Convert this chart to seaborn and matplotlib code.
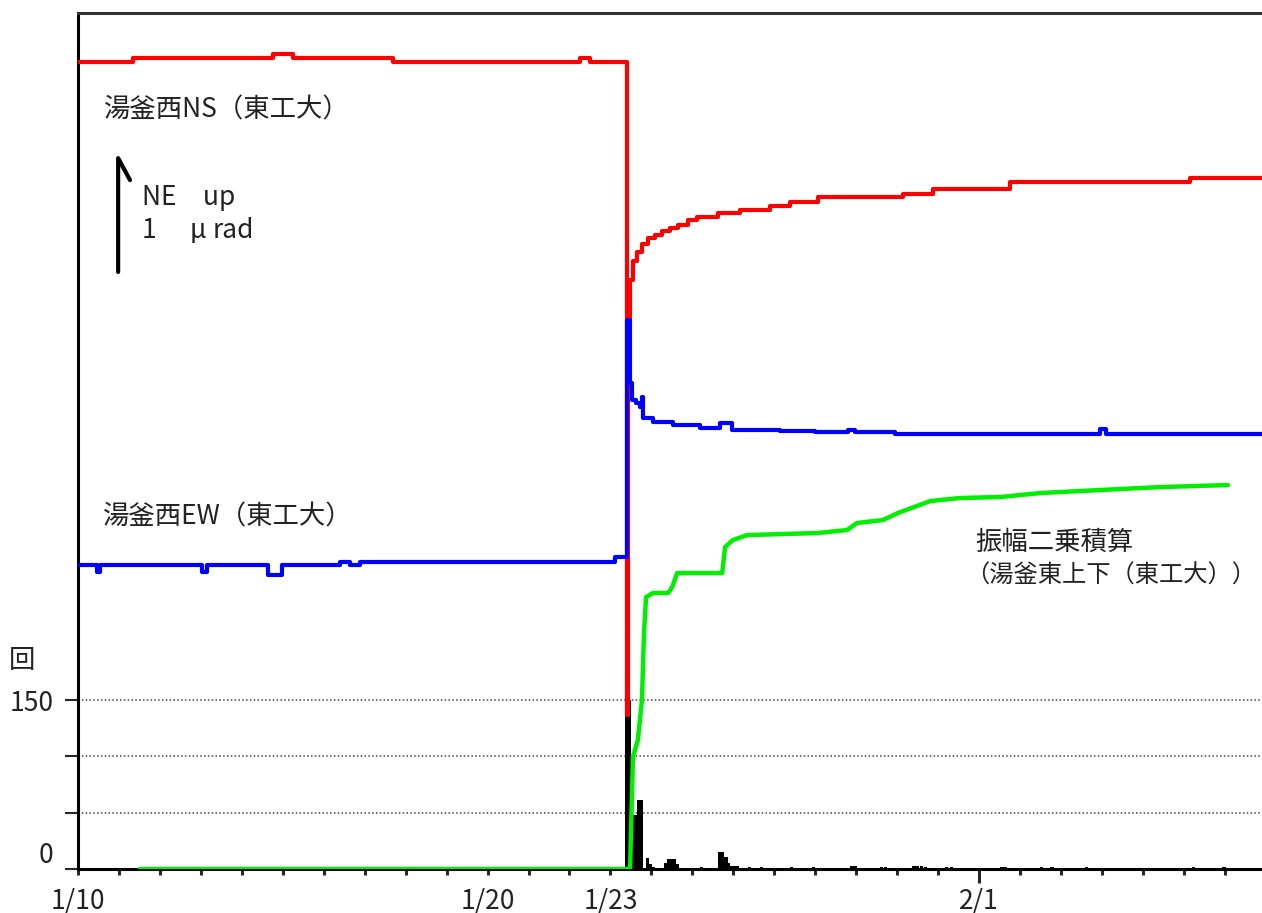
import numpy as np
import pandas as pd
import seaborn as sns
import matplotlib.pyplot as plt

# x = days since 1/10, y = count scale (回); tilt traces drawn on the same scale as offsets
ns_days = [0, 1.34, 4.76, 5.25, 7.69, 12.26, 12.50, 13.41, 13.43, 13.48, 13.55, 13.65, 13.77,
           13.92, 14.09, 14.26, 14.46, 14.65, 14.90, 15.12, 15.63, 16.17, 16.90, 17.39, 18.07,
           20.15, 20.88, 22.76, 27.15, 28.91]
ns_vals = [716.3, 719.8, 723.4, 719.8, 716.3, 719.8, 716.3, 137.0, 487.3, 523.0, 540.0, 548.0, 555.0,
           560.0, 563.0, 566.0, 569.0, 572.0, 576.0, 579.0, 582.5, 585.2, 588.7, 592.3, 596.7,
           599.4, 604.0, 609.8, 613.3, 613.3]

ew_days = [0, 0.46, 0.54, 3.03, 3.15, 4.64, 4.98, 6.40, 6.64, 6.89, 13.11, 13.41, 13.48, 13.53,
           13.63, 13.72, 13.77, 13.80, 14.04, 14.53, 15.19, 15.68, 15.97, 17.14, 18.00, 18.80,
           18.97, 19.95, 24.96, 25.10, 28.91]
ew_vals = [269.8, 263.6, 269.8, 263.6, 269.8, 261.0, 269.8, 272.5, 269.8, 272.5, 276.9, 487.3, 431.3, 416.3,
           413.6, 410.0, 419.0, 400.3, 396.7, 394.1, 391.4, 395.8, 389.6, 388.7, 387.9, 389.6,
           387.9, 386.1, 390.5, 386.1, 386.1]

amp_days = [1.51, 13.48, 13.55, 13.67, 13.77, 13.82, 13.87, 14.04, 14.41, 14.51, 14.63, 15.73,
            15.80, 15.99, 16.34, 18.05, 18.78, 19.02, 19.66, 20.02, 20.81, 21.54, 22.52, 23.49,
            24.96, 26.42, 28.08]
amp_vals = [0, 0, 99.4, 114.5, 150.0, 209.5, 241.4, 245.0, 245.0, 250.3, 262.7, 262.7,
            285.8, 292.0, 296.4, 298.2, 300.9, 307.1, 309.8, 316.0, 326.6, 329.3, 330.2, 333.7,
            336.4, 339.0, 340.8]

quake_days = [1.51, 5.01, 13.36, 13.43, 13.50, 13.58, 13.65, 13.72, 13.87, 13.94, 14.02, 14.31,
              14.38, 14.46, 14.53, 14.60, 15.19, 15.63, 15.70, 15.78, 15.85, 15.92, 15.99, 16.07,
              16.36, 16.65, 17.39, 17.92, 18.85, 18.93, 19.58, 19.68, 20.37, 20.46, 20.56, 20.66,
              21.17, 21.29, 22.52, 22.61, 23.49, 23.74, 24.59, 25.69, 27.20, 27.94]
quake_counts = [1, 2, 150, 150, 48, 48, 61, 61, 10, 4, 2, 5,
                9, 9, 9, 4, 2, 15, 15, 11, 5, 3, 3, 3,
                2, 2, 2, 2, 3, 3, 2, 2, 3, 3, 3, 2,
                2, 2, 2, 2, 2, 2, 2, 1, 2, 2]

tick_days = [0, 10, 13, 22]
tick_labels = ['1/10', '1/20', '1/23', '2/1']

sns.set_style('ticks')
plt.rcParams['font.family'] = ['Noto Sans CJK JP', 'DejaVu Sans']

fig = plt.figure(figsize=(12.62, 9.13), dpi=100)
ax = fig.add_axes([78 / 1262, 44 / 913, 1184 / 1262, 856 / 913])

# dotted count grid
for v in [50, 100, 150]:
    ax.axhline(v, color='#444444', lw=1.1, ls=(0, (1, 1.5)), zorder=1)

ax.bar(quake_days, quake_counts, width=0.08, align='edge', color='black', linewidth=0, zorder=2)

sns.lineplot(x=amp_days, y=amp_vals, color='#00ee00', lw=3.2, estimator=None, sort=False,
             ax=ax, zorder=3)
sns.lineplot(x=ns_days, y=ns_vals, color='#ff0000', lw=3, estimator=None, sort=False,
             drawstyle='steps-post', ax=ax, zorder=4)
sns.lineplot(x=ew_days, y=ew_vals, color='#0000ff', lw=3, estimator=None, sort=False,
             drawstyle='steps-post', ax=ax, zorder=5)

ax.set_xlim(0, 28.91)
ax.set_ylim(0, 759.8)

# scale arrow
ax.plot([0.98, 0.98, 1.27], [529.9, 631.0, 611.5], color='black', lw=3, zorder=6)

txt = dict(fontsize=19, color='#222222', va='center', ha='left')
ax.text(0.63, 673.6, '湯釜西NS（東工大）', **txt)
ax.text(1.56, 596.4, 'NE　up', **txt)
ax.text(1.56, 567.1, '1　', **txt)
ax.text(2.72, 567.1, 'μ', fontsize=19, color='#222222', va='center', ha='left', style='italic')
ax.text(3.29, 567.1, 'rad', **txt)
ax.text(0.61, 312.4, '湯釜西EW（東工大）', **txt)
ax.text(21.90, 290.2, '振幅二乗積算', **txt)
ax.text(21.66, 260.1, '（湯釜東上下（東工大））', fontsize=17.5, color='#222222',
        va='center', ha='left')
ax.text(-1.37, 185, '回', fontsize=19, color='#222222', va='center', ha='center', clip_on=False)

ax.set_yticks([0, 50, 100, 150])
ax.set_yticklabels(['0', '', '', '150'])
ax.get_yticklabels()[0].set_va('bottom')
ax.tick_params(axis='y', direction='out', length=9.5, width=1.5, labelsize=19, pad=8,
               left=True, labelcolor='#222222')

ax.set_xticks(tick_days)
ax.set_xticklabels(tick_labels)
ax.set_xticks(np.arange(0, 29), minor=True)
ax.tick_params(axis='x', which='both', direction='out', length=4, width=2.2, labelsize=19,
               pad=10, bottom=True, labelcolor='#222222')
ax.xaxis.get_major_ticks()[3].tick1line.set_markersize(10)

ax.spines['right'].set_visible(False)
for s in ['left', 'bottom', 'top']:
    ax.spines[s].set_linewidth(2.2)
    ax.spines[s].set_color('black')
ax.spines['top'].set_color('#333333')

fig.savefig('out.png', dpi=100)
